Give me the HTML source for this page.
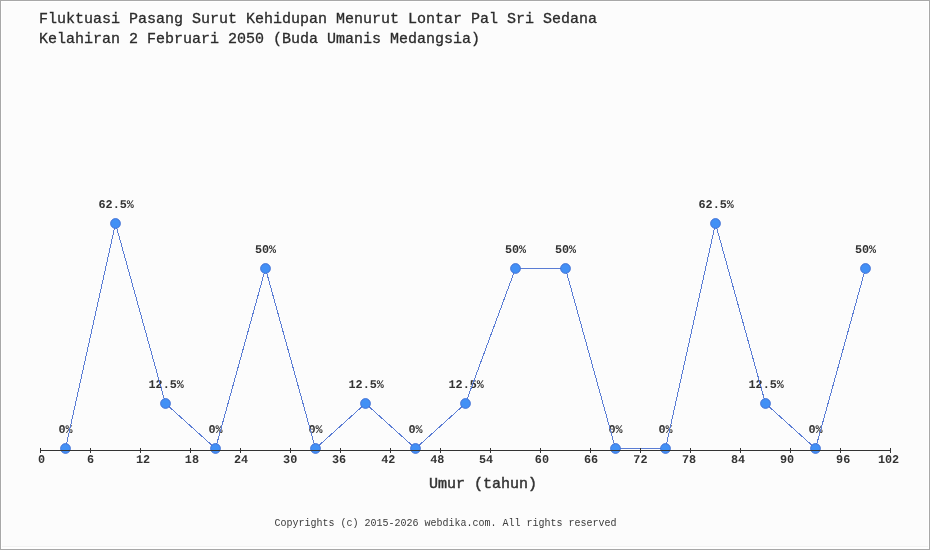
<!DOCTYPE html>
<html><head><meta charset="utf-8"><style>
html,body{margin:0;padding:0;background:#fcfcfc;}
svg{display:block;will-change:transform;}
text{font-family:"Liberation Mono",monospace;}
.t{font-size:15px;fill:#2b2b2b;stroke:#2b2b2b;stroke-width:0.3px;}
.n{font-size:11.8px;font-weight:bold;fill:#333;text-rendering:geometricPrecision;}
.ax{font-size:15px;fill:#333;stroke:#333;stroke-width:0.45px;}
.f{font-size:10px;fill:#3a3a3a;}
</style></head><body>
<svg width="930" height="550" viewBox="0 0 930 550">
<rect x="0" y="0" width="930" height="550" fill="#a8a8a8"/>
<rect x="1" y="1" width="928" height="548" fill="#ffffff"/>
<rect x="2" y="2" width="926" height="545" fill="#fcfcfc"/>
<rect x="2" y="546" width="926" height="1" fill="#f3f3f3"/>
<text x="39" y="23" class="t">Fluktuasi Pasang Surut Kehidupan Menurut Lontar Pal Sri Sedana</text>
<text x="39" y="43" class="t">Kelahiran 2 Februari 2050 (Buda Umanis Medangsia)</text>
<text x="429" y="488" class="ax">Umur (tahun)</text>
<text x="274.5" y="525.5" class="f">Copyrights (c) 2015-2026 webdika.com. All rights reserved</text>
<text x="65.5" y="433" class="n" text-anchor="middle">0%</text>
<text x="116.2" y="208" class="n" text-anchor="middle">62.5%</text>
<text x="166.2" y="388" class="n" text-anchor="middle">12.5%</text>
<text x="215.5" y="433" class="n" text-anchor="middle">0%</text>
<text x="265.5" y="253" class="n" text-anchor="middle">50%</text>
<text x="315.5" y="433" class="n" text-anchor="middle">0%</text>
<text x="366.2" y="388" class="n" text-anchor="middle">12.5%</text>
<text x="415.5" y="433" class="n" text-anchor="middle">0%</text>
<text x="466.2" y="388" class="n" text-anchor="middle">12.5%</text>
<text x="515.5" y="253" class="n" text-anchor="middle">50%</text>
<text x="565.5" y="253" class="n" text-anchor="middle">50%</text>
<text x="615.5" y="433" class="n" text-anchor="middle">0%</text>
<text x="665.5" y="433" class="n" text-anchor="middle">0%</text>
<text x="716.2" y="208" class="n" text-anchor="middle">62.5%</text>
<text x="766.2" y="388" class="n" text-anchor="middle">12.5%</text>
<text x="815.5" y="433" class="n" text-anchor="middle">0%</text>
<text x="865.5" y="253" class="n" text-anchor="middle">50%</text>
<polyline fill="none" stroke="#5a7cd4" stroke-width="1" shape-rendering="crispEdges" points="65.5,448.5 115.5,223.5 165.5,403.5 215.5,448.5 265.5,268.5 315.5,448.5 365.5,403.5 415.5,448.5 465.5,403.5 515.5,268.5 565.5,268.5 615.5,448.5 665.5,448.5 715.5,223.5 765.5,403.5 815.5,448.5 865.5,268.5"/>
<circle cx="65.5" cy="448.5" r="4.9" fill="#4290f5" stroke="#3f6cd2" stroke-width="0.9"/>
<circle cx="115.5" cy="223.5" r="4.9" fill="#4290f5" stroke="#3f6cd2" stroke-width="0.9"/>
<circle cx="165.5" cy="403.5" r="4.9" fill="#4290f5" stroke="#3f6cd2" stroke-width="0.9"/>
<circle cx="215.5" cy="448.5" r="4.9" fill="#4290f5" stroke="#3f6cd2" stroke-width="0.9"/>
<circle cx="265.5" cy="268.5" r="4.9" fill="#4290f5" stroke="#3f6cd2" stroke-width="0.9"/>
<circle cx="315.5" cy="448.5" r="4.9" fill="#4290f5" stroke="#3f6cd2" stroke-width="0.9"/>
<circle cx="365.5" cy="403.5" r="4.9" fill="#4290f5" stroke="#3f6cd2" stroke-width="0.9"/>
<circle cx="415.5" cy="448.5" r="4.9" fill="#4290f5" stroke="#3f6cd2" stroke-width="0.9"/>
<circle cx="465.5" cy="403.5" r="4.9" fill="#4290f5" stroke="#3f6cd2" stroke-width="0.9"/>
<circle cx="515.5" cy="268.5" r="4.9" fill="#4290f5" stroke="#3f6cd2" stroke-width="0.9"/>
<circle cx="565.5" cy="268.5" r="4.9" fill="#4290f5" stroke="#3f6cd2" stroke-width="0.9"/>
<circle cx="615.5" cy="448.5" r="4.9" fill="#4290f5" stroke="#3f6cd2" stroke-width="0.9"/>
<circle cx="665.5" cy="448.5" r="4.9" fill="#4290f5" stroke="#3f6cd2" stroke-width="0.9"/>
<circle cx="715.5" cy="223.5" r="4.9" fill="#4290f5" stroke="#3f6cd2" stroke-width="0.9"/>
<circle cx="765.5" cy="403.5" r="4.9" fill="#4290f5" stroke="#3f6cd2" stroke-width="0.9"/>
<circle cx="815.5" cy="448.5" r="4.9" fill="#4290f5" stroke="#3f6cd2" stroke-width="0.9"/>
<circle cx="865.5" cy="268.5" r="4.9" fill="#4290f5" stroke="#3f6cd2" stroke-width="0.9"/>
<line x1="40" y1="450.5" x2="891" y2="450.5" stroke="#333" stroke-width="1"/>
<line x1="40.5" y1="448" x2="40.5" y2="453" stroke="#333" stroke-width="1"/>
<line x1="90.5" y1="448" x2="90.5" y2="453" stroke="#333" stroke-width="1"/>
<line x1="140.5" y1="448" x2="140.5" y2="453" stroke="#333" stroke-width="1"/>
<line x1="190.5" y1="448" x2="190.5" y2="453" stroke="#333" stroke-width="1"/>
<line x1="240.5" y1="448" x2="240.5" y2="453" stroke="#333" stroke-width="1"/>
<line x1="290.5" y1="448" x2="290.5" y2="453" stroke="#333" stroke-width="1"/>
<line x1="340.5" y1="448" x2="340.5" y2="453" stroke="#333" stroke-width="1"/>
<line x1="390.5" y1="448" x2="390.5" y2="453" stroke="#333" stroke-width="1"/>
<line x1="440.5" y1="448" x2="440.5" y2="453" stroke="#333" stroke-width="1"/>
<line x1="490.5" y1="448" x2="490.5" y2="453" stroke="#333" stroke-width="1"/>
<line x1="540.5" y1="448" x2="540.5" y2="453" stroke="#333" stroke-width="1"/>
<line x1="590.5" y1="448" x2="590.5" y2="453" stroke="#333" stroke-width="1"/>
<line x1="640.5" y1="448" x2="640.5" y2="453" stroke="#333" stroke-width="1"/>
<line x1="690.5" y1="448" x2="690.5" y2="453" stroke="#333" stroke-width="1"/>
<line x1="740.5" y1="448" x2="740.5" y2="453" stroke="#333" stroke-width="1"/>
<line x1="790.5" y1="448" x2="790.5" y2="453" stroke="#333" stroke-width="1"/>
<line x1="840.5" y1="448" x2="840.5" y2="453" stroke="#333" stroke-width="1"/>
<line x1="890.5" y1="448" x2="890.5" y2="453" stroke="#333" stroke-width="1"/>
<text x="38" y="463" class="n">0</text>
<text x="86.9" y="463" class="n">6</text>
<text x="135.9" y="463" class="n">12</text>
<text x="184.8" y="463" class="n">18</text>
<text x="233.9" y="463" class="n">24</text>
<text x="283.1" y="463" class="n">30</text>
<text x="331.9" y="463" class="n">36</text>
<text x="381.2" y="463" class="n">42</text>
<text x="430.2" y="463" class="n">48</text>
<text x="479" y="463" class="n">54</text>
<text x="534.8" y="463" class="n">60</text>
<text x="583.9" y="463" class="n">66</text>
<text x="633.3" y="463" class="n">72</text>
<text x="681.9" y="463" class="n">78</text>
<text x="730.9" y="463" class="n">84</text>
<text x="779.9" y="463" class="n">90</text>
<text x="836.1" y="463" class="n">96</text>
<text x="877.9" y="463" class="n">102</text>
</svg>
</body></html>
